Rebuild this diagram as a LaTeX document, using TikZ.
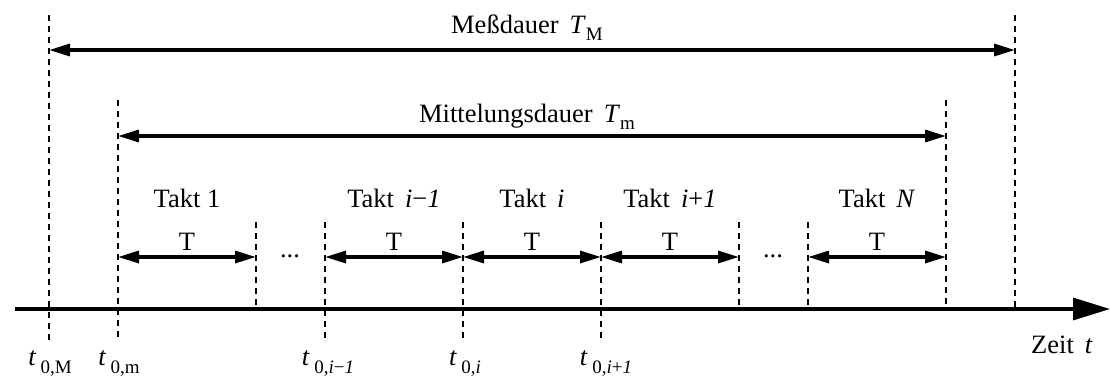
\documentclass[tikz,border=0pt]{standalone}
\usepackage{fontspec}
\setmainfont{Liberation Serif}
\usetikzlibrary{arrows.meta}

% subscript set by hand: smaller, lowered, upright unless marked
\newcommand{\lowsub}[2]{\raisebox{-#1}{\fontsize{19}{19}\selectfont #2}}

\tikzset{
  guide/.style={line width=1.1pt, dash pattern=on 6pt off 5pt},
  span/.style={line width=3.2pt, {Triangle[length=21pt,width=12pt]}-{Triangle[length=21pt,width=12pt]}},
  timeaxis/.style={line width=3.3pt, -{Triangle[length=37pt,width=22pt]}},
  lbl/.style={anchor=base, inner sep=0pt, font=\fontsize{26.5}{30}\selectfont},
}

\begin{document}
\begin{tikzpicture}[x=1pt,y=-1pt]
\useasboundingbox (0,0) rectangle (1110,376);

% ---- time axis ----
\coordinate (axL) at (15,309);
\coordinate (axR) at (1110,309);
\draw[timeaxis] (axL) -- (axR);

% ---- guide lines: top and bottom ends ----
\foreach \n/\x/\yt/\yb in {
   gM/49/15/340, gE/1015/15/309,
   gm/118/100/340, gN/946/100/309,
   g1/256/222/309, gA/325/222/340, gB/463/222/340,
   gC/601/222/340, gD/739/222/309, gF/808/222/309}{
  \coordinate (\n t) at (\x,\yt);
  \coordinate (\n b) at (\x,\yb);
  \draw[guide] (\n t) -- (\n b);
}

% ---- durations ----
\coordinate (msL) at (49,50);   \coordinate (msR) at (1015,50);
\coordinate (mtL) at (118,136); \coordinate (mtR) at (946,136);
\draw[span] (msL) -- (msR);
\draw[span] (mtL) -- (mtR);
\node[lbl] (msLabel) at (527,33) {Meßdauer\, \textit{T}\lowsub{7pt}{M}};
\node[lbl] (mtLabel) at (527,122) {Mittelungsdauer\, \textit{T}\lowsub{7pt}{m}};

% ---- clock periods ----
\foreach \n/\a/\b in {p1/118/256, pA/325/463, pB/463/601, pC/601/739, pN/808/946}{
  \coordinate (\n L) at (\a,257);
  \coordinate (\n R) at (\b,257);
  \draw[span] (\n L) -- (\n R);
  \node[lbl] (\n T) at ({(\a+\b)/2},250) {T};
}
\node[lbl] (dots1) at (290,257) {...};
\node[lbl] (dots2) at (773,257) {...};

\node[lbl] (tk1) at (187,207) {Takt 1};
\node[lbl] (tkA) at (394,207) {Takt\, \textit{i}−\textit{1}};
\node[lbl] (tkB) at (532,207) {Takt\, \textit{i}};
\node[lbl] (tkC) at (670,207) {Takt\, \textit{i}+\textit{1}};
\node[lbl] (tkN) at (877,207) {Takt\, \textit{N}};

% ---- instants on the axis ----
\node[lbl] (t0M) at (50,365)  {\textit{t}\,\lowsub{8pt}{0,M}};
\node[lbl] (t0m) at (119,365) {\textit{t}\,\lowsub{8pt}{0,m}};
\node[lbl] (t0A) at (328,365) {\textit{t}\,\lowsub{8pt}{0,\textit{i}−\textit{1}}};
\node[lbl] (t0B) at (465,365) {\textit{t}\,\lowsub{8pt}{0,\textit{i}}};
\node[lbl] (t0C) at (606,365) {\textit{t}\,\lowsub{8pt}{0,\textit{i}+\textit{1}}};

\node[lbl, anchor=base east] (zeit) at (1093,353) {Zeit\, \textit{t}};
\end{tikzpicture}
\end{document}
